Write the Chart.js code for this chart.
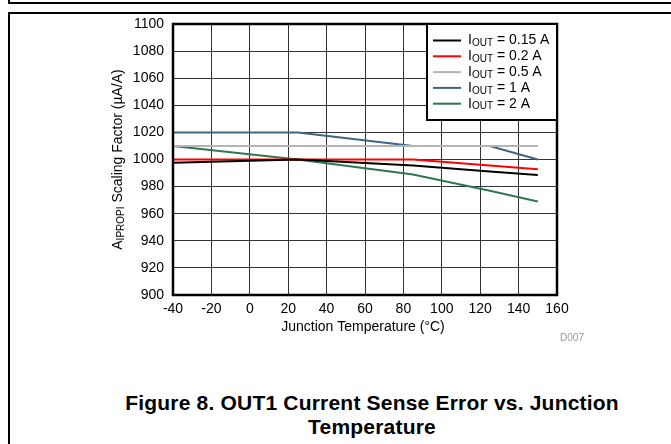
<!DOCTYPE html>
<html>
<head>
<meta charset="utf-8">
<script src="https://cdn.jsdelivr.net/npm/chart.js@4"></script>
<style>
  html, body { margin: 0; padding: 0; background: #fff; }
  body { width: 671px; height: 444px; position: relative; overflow: hidden; font-family: "Liberation Sans", Arial, sans-serif; }
  .frame1 { position: absolute; left: 8px; top: -4px; width: 700px; height: 6px; border-left: 2px solid #000; border-bottom: 2px solid #000; }
  .frame2 { position: absolute; left: 8px; top: 12px; width: 700px; height: 500px; border-left: 2px solid #000; border-top: 2px solid #000; }
  .caption { position: absolute; left: 22px; width: 700px; top: 391px; text-align: center; font-weight: bold; font-size: 21px; letter-spacing: 0.2px; line-height: 24px; color: #000; }
  #wrap { position: absolute; left: 0; top: 0; width: 671px; height: 444px; }
</style>
</head>
<body>
<div class="frame1"></div>
<div class="frame2"></div>
<div class="caption">Figure 8. OUT1 Current Sense Error vs. Junction<br>Temperature</div>
<div id="wrap"><canvas id="c" width="671" height="444"></canvas></div>
<script>
// junction temperature (°C)
const temps = [-40, 25, 85, 125, 150];
// scaling factor (µA/A) per output current
const iout015 = [997.6, 1000, 995.6, 991.2, 988.6];
const iout02 = [1000, 1000, 1000, 995.5, 992.8];
const iout05 = [1010, 1010, 1010, 1010, 1010];
const iout1 = [1020, 1020, 1010, 1010, 1000];
const iout2 = [1010, 1000, 989, 977, 969];

const seriesNames = ["0.15 A", "0.2 A", "0.5 A", "1 A", "2 A"];
const seriesData = [iout015, iout02, iout05, iout1, iout2];
const colors = ["#000000", "#ff0000", "#b4b4b4", "#3c6682", "#2f7652"];

const xTicks = [-40, -20, 0, 20, 40, 60, 80, 100, 120, 140, 160];
const yTicks = [900, 920, 940, 960, 980, 1000, 1020, 1040, 1060, 1080, 1100];

const FONT = '"Liberation Sans", Arial, sans-serif';

const datasets = seriesData.map((vals, i) => ({
  label: seriesNames[i],
  data: temps.map((t, j) => ({ x: t, y: vals[j] })),
  borderColor: colors[i],
  backgroundColor: colors[i],
  borderWidth: 2,
  pointRadius: 0,
  tension: 0
}));

// subscript text helper
function subText(ctx, x, y, parts, align) {
  // parts: [text, isSub]
  let total = 0;
  parts.forEach(p => {
    ctx.font = (p[1] ? "10px " : "14px ") + FONT;
    total += ctx.measureText(p[0]).width;
  });
  let cx = align === "center" ? x - total / 2 : x;
  parts.forEach(p => {
    ctx.font = (p[1] ? "10px " : "14px ") + FONT;
    ctx.fillText(p[0], cx, p[1] ? y + 3 : y);
    cx += ctx.measureText(p[0]).width;
  });
}

const extras = {
  id: "extras",
  afterDraw(chart) {
    const ctx = chart.ctx;
    const a = chart.chartArea;
    ctx.save();
    // plot frame
    ctx.strokeStyle = "#000";
    ctx.lineWidth = 2.5;
    ctx.strokeRect(a.left, a.top, a.right - a.left, a.bottom - a.top);

    // legend box
    const lx = 427, ly = a.top, lw = a.right - 427, lh = 96;
    ctx.fillStyle = "#fff";
    ctx.fillRect(lx, ly, lw, lh);
    ctx.lineWidth = 2;
    ctx.strokeRect(lx, ly, lw, lh);
    ctx.textBaseline = "middle";
    ctx.textAlign = "left";
    seriesNames.forEach((n, i) => {
      const yy = ly + 16.5 + i * 15.8;
      ctx.strokeStyle = colors[i];
      ctx.lineWidth = 2;
      ctx.beginPath();
      ctx.moveTo(433, yy);
      ctx.lineTo(461, yy);
      ctx.stroke();
      ctx.fillStyle = "#000";
      subText(ctx, 468, yy, [["I", false], ["OUT", true], [" = " + n, false]], "left");
    });

    // x title
    ctx.fillStyle = "#000";
    ctx.font = "14px " + FONT;
    ctx.textAlign = "center";
    ctx.fillText("Junction Temperature (°C)", (a.left + a.right) / 2 - 2, 327);

    // y title
    ctx.save();
    ctx.translate(118, (a.top + a.bottom) / 2);
    ctx.rotate(-Math.PI / 2);
    ctx.textAlign = "left";
    subText(ctx, 0, 0, [["A", false], ["IPROPI", true], [" Scaling Factor (µA/A)", false]], "center");
    ctx.restore();

    // figure code
    ctx.fillStyle = "#999";
    ctx.font = "10px " + FONT;
    ctx.textAlign = "center";
    ctx.fillText("D007", 572, 338);
    ctx.restore();
  }
};

new Chart(document.getElementById("c"), {
  type: "line",
  data: { datasets },
  options: {
    responsive: false,
    animation: false,
    layout: { padding: { left: 0, right: 114, top: 24, bottom: 119 } },
    plugins: { legend: { display: false }, tooltip: { enabled: false } },
    scales: {
      x: {
        type: "linear",
        min: -40, max: 160,
        afterBuildTicks: s => { s.ticks = xTicks.map(v => ({ value: v })); },
        afterFit: s => { s.height = 30; },
        grid: { color: "#333", lineWidth: 1, drawTicks: false },
        border: { display: false },
        ticks: { color: "#000", font: { family: FONT, size: 14 }, padding: 6, maxRotation: 0, autoSkip: false, callback: v => String(v) }
      },
      y: {
        min: 900, max: 1100,
        afterBuildTicks: s => { s.ticks = yTicks.map(v => ({ value: v })); },
        afterFit: s => { s.width = 173; },
        grid: { color: "#333", lineWidth: 1, drawTicks: false },
        border: { display: false },
        ticks: { color: "#000", font: { family: FONT, size: 14 }, padding: 9, autoSkip: false, callback: v => String(v) }
      }
    }
  },
  plugins: [extras]
});
</script>
</body>
</html>
